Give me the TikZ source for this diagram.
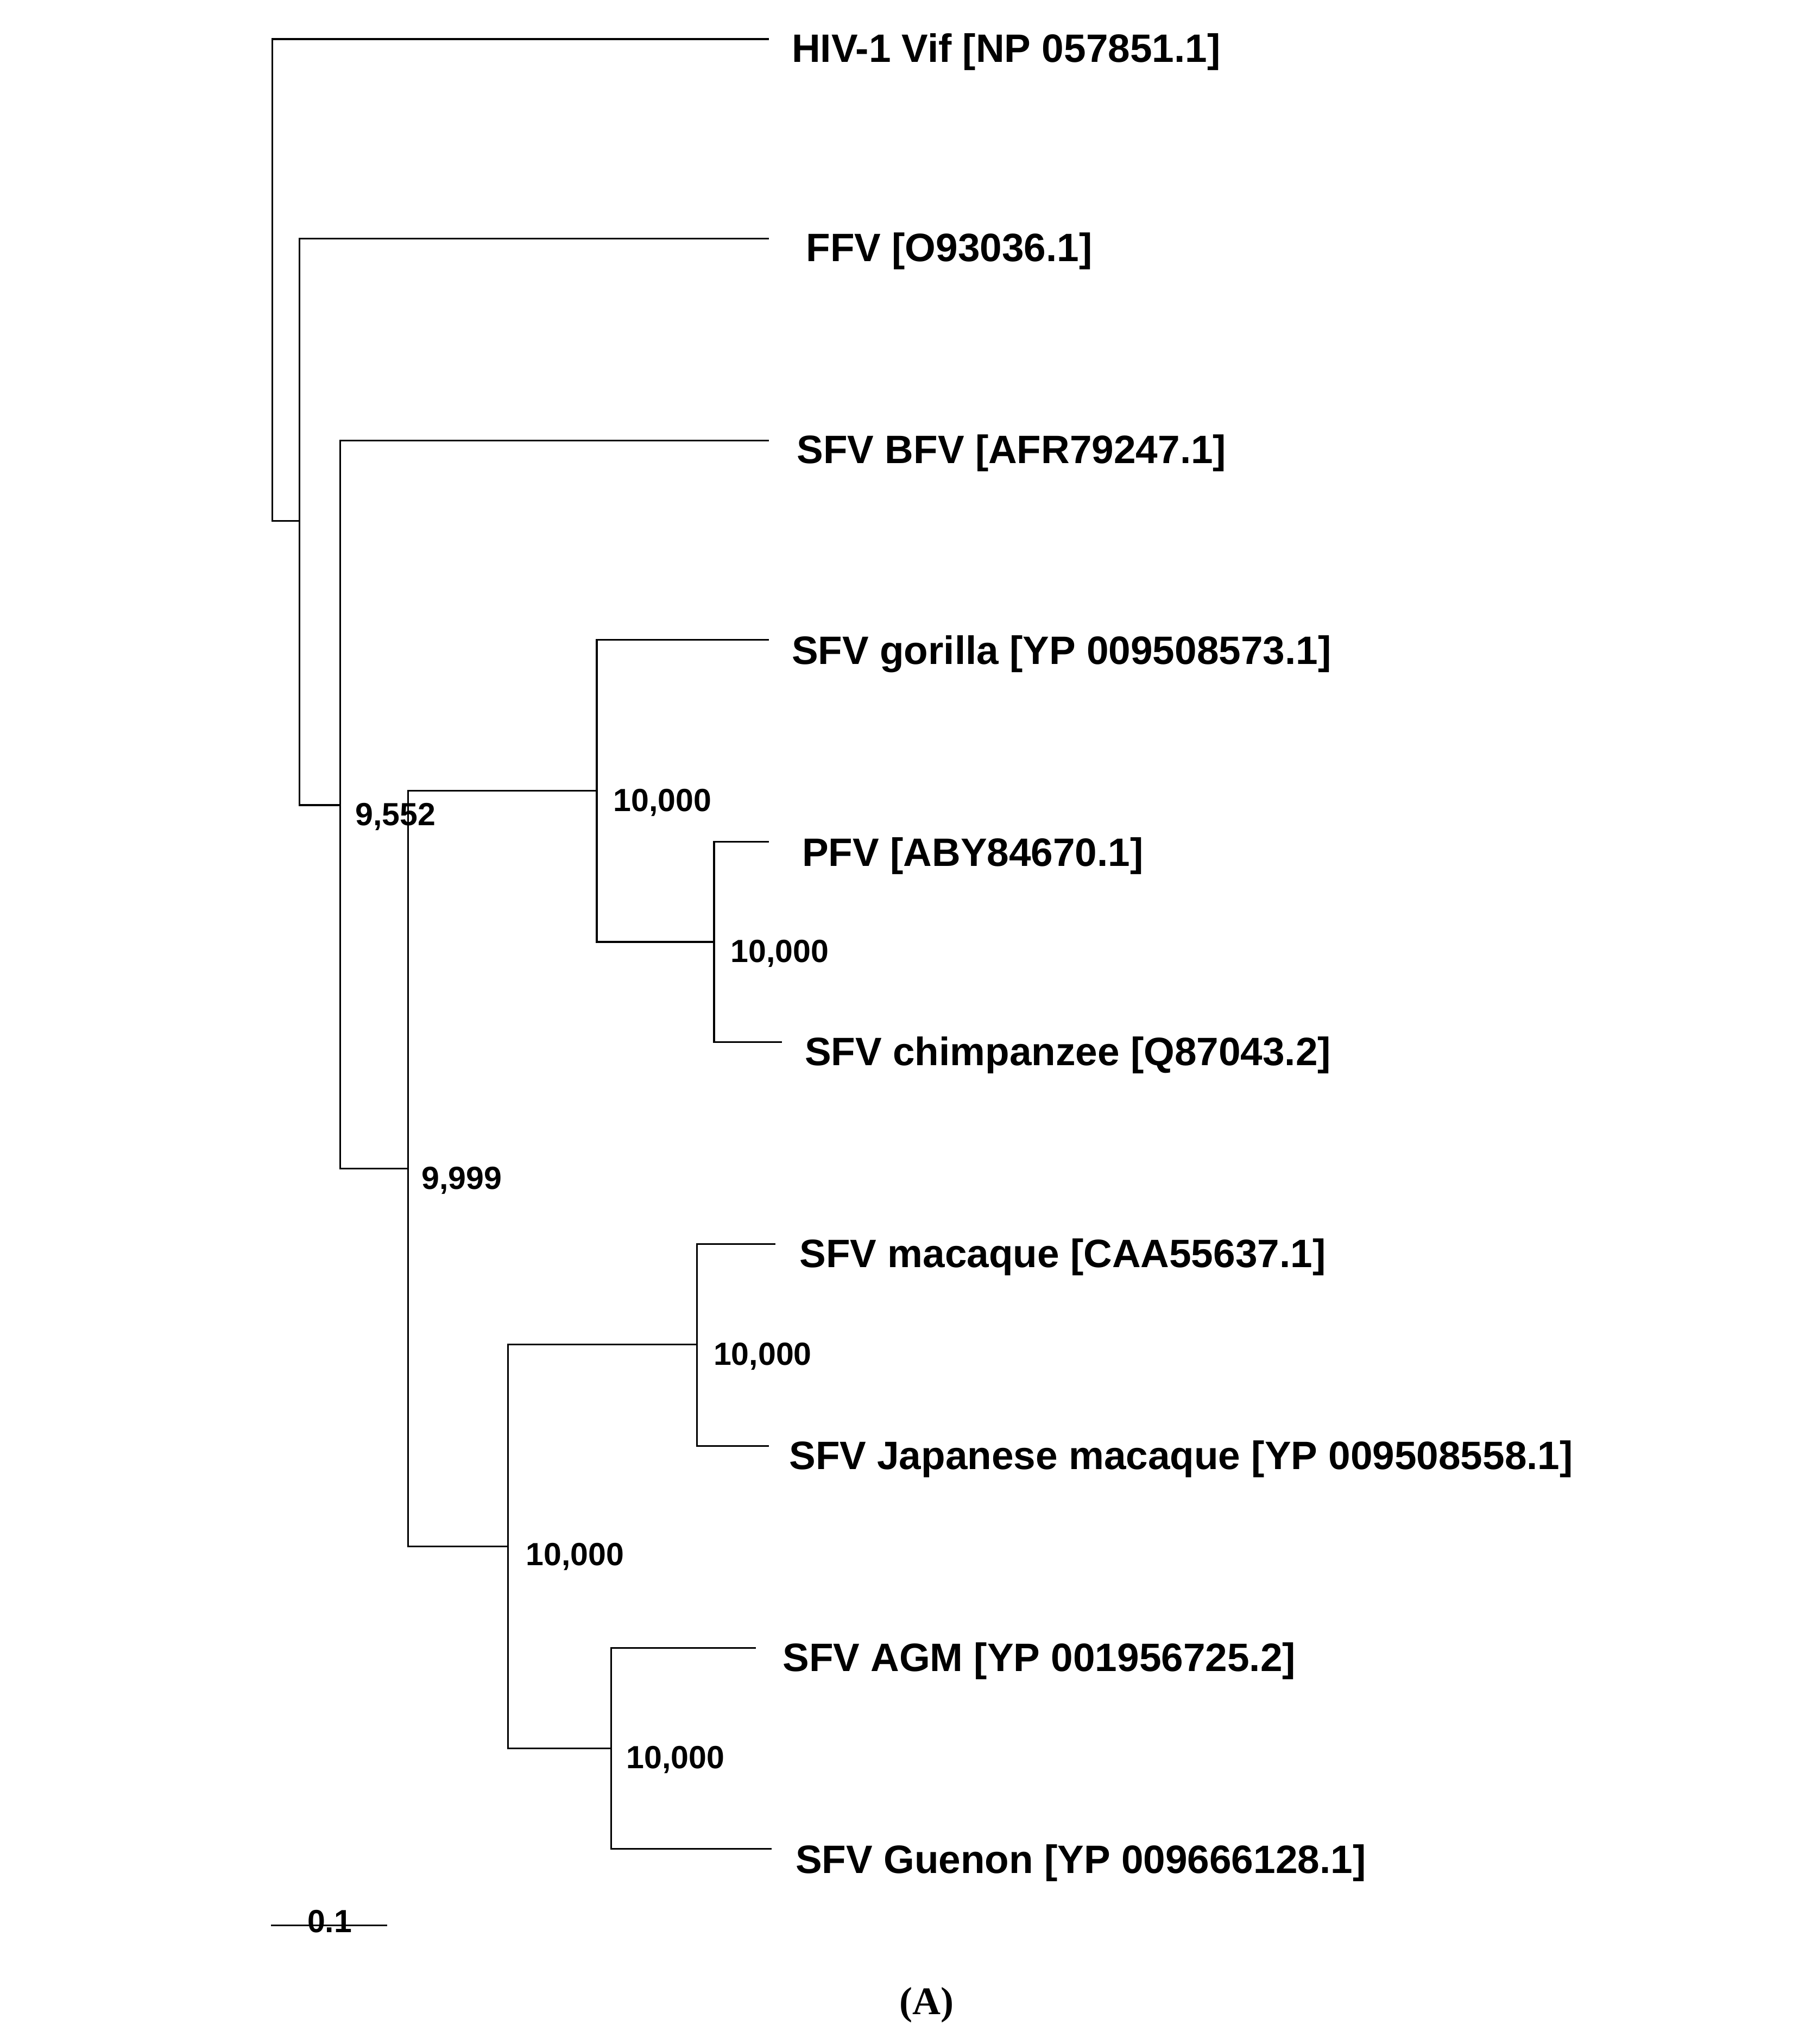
\documentclass[tikz,border=0pt]{standalone}
\usepackage{fontspec}
\setmainfont{Liberation Sans}
\newfontfamily\serifA{Liberation Serif}
\begin{document}
\begin{tikzpicture}[x=1pt,y=-1pt,line width=1.3pt,
 lab/.style={anchor=west,inner sep=0pt,font=\fontsize{30.4}{31}\selectfont\bfseries},
 bs/.style={anchor=west,inner sep=0pt,font=\fontsize{24.6}{25}\selectfont\bfseries}]
\useasboundingbox (0,0) rectangle (1385,1569);
% leaves
\node[lab] (hiv) at (607,40) {HIV-1 Vif [NP 057851.1]};
\node[lab] (ffv) at (618,193) {FFV [O93036.1]};
\node[lab] (bfv) at (611,348) {SFV BFV [AFR79247.1]};
\node[lab] (gor) at (607,502) {SFV gorilla [YP 009508573.1]};
\node[lab] (pfv) at (615,657) {PFV [ABY84670.1]};
\node[lab] (chi) at (617,810) {SFV chimpanzee [Q87043.2]};
\node[lab] (mac) at (613,965) {SFV macaque [CAA55637.1]};
\node[lab] (jap) at (605,1120) {SFV Japanese macaque [YP 009508558.1]};
\node[lab] (agm) at (600,1275) {SFV AGM [YP 001956725.2]};
\node[lab] (gue) at (610,1430) {SFV Guenon [YP 009666128.1]};
% tree
\coordinate (eh) at (590,30); \coordinate (ef) at (590,183); \coordinate (eb) at (590,338);
\coordinate (eg) at (590,491); \coordinate (ep) at (590,646); \coordinate (ec) at (600,800);
\coordinate (em) at (595,955); \coordinate (ej) at (590,1110); \coordinate (ea) at (580,1265);
\coordinate (eu) at (592,1419);
\draw (eh) -| (209,400) -- (230,400);
\draw (ef) -| (230,618) -- (261,618);
\draw (eb) -| (261,897) -- (313,897);
\draw (458,607) -| (313,1187) -- (390,1187);
\draw (eg) -| (458,723) -- (548,723);
\draw (ep) -| (548,800) -- (ec);
\draw (535,1032) -| (390,1342) -- (469,1342);
\draw (em) -| (535,1110) -- (ej);
\draw (ea) -| (469,1419) -- (eu);
% bootstrap
\node[bs] (b1) at (272,627) {9,552};
\node[bs] (b2) at (323,906) {9,999};
\node[bs] (b3) at (470,616) {10,000};
\node[bs] (b4) at (560,732) {10,000};
\node[bs] (b5) at (547,1041) {10,000};
\node[bs] (b6) at (403,1195) {10,000};
\node[bs] (b7) at (480,1351) {10,000};
% scale
\coordinate (s1) at (208,1478); \coordinate (s2) at (297,1478);
\draw (s1) -- (s2);
\node[bs,anchor=center] (sc) at (253,1475) {0.1};
\node[font=\serifA\bfseries\fontsize{30}{31}\selectfont,inner sep=0pt] (A) at (711,1539) {(A)};
\end{tikzpicture}
\end{document}
